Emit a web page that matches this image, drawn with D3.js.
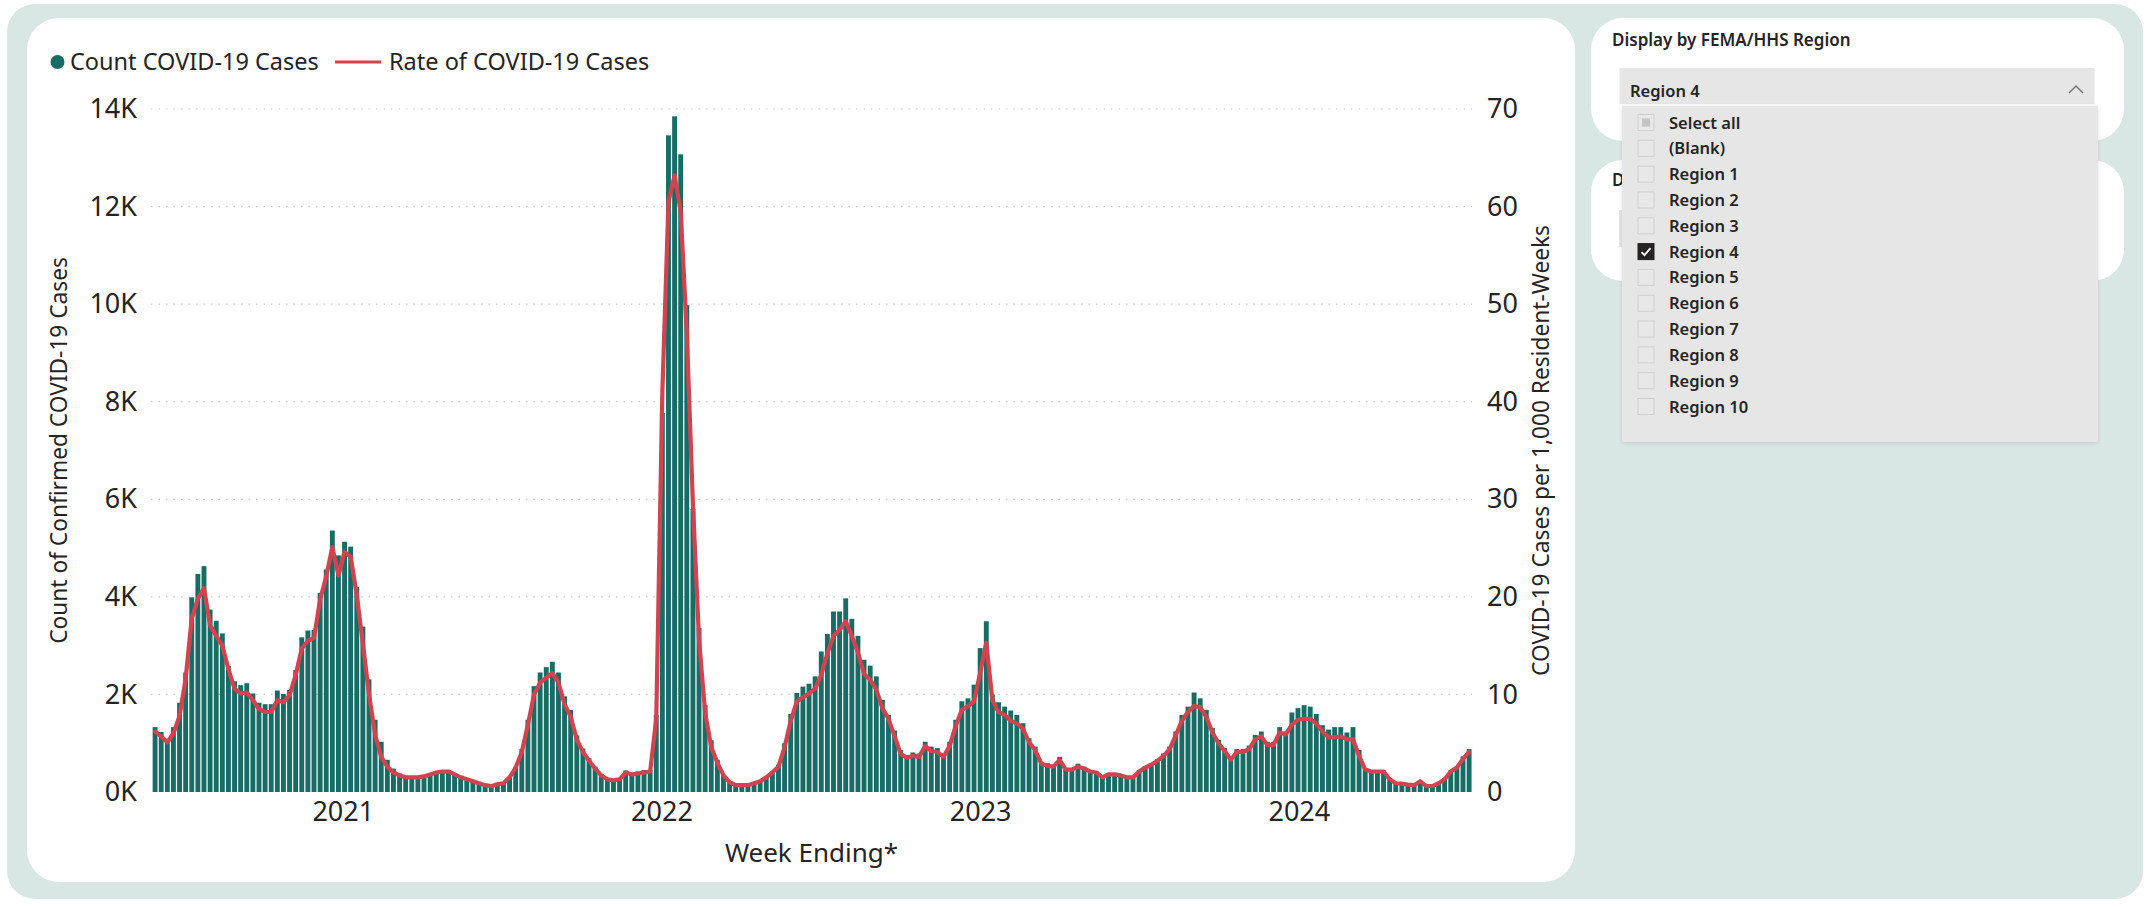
<!DOCTYPE html>
<html>
<head>
<meta charset="utf-8">
<script src="https://cdn.jsdelivr.net/npm/d3@7"></script>
<style>
  html, body { margin: 0; padding: 0; background: #ffffff; }
  svg { display: block; }
  text { font-family: "Segoe UI", "Noto Sans", "Open Sans", sans-serif; fill: #252423; }
</style>
</head>
<body>
<svg id="chart" width="2151" height="907"></svg>
<script>
// Weekly nursing-home COVID-19 cases, FEMA/HHS Region 4 (week ending dates, starting 2020-05-31)
const firstWeekEnding = "2020-05-31";

const weeklyCounts = [
  1330, 1230, 1070, 1330, 1830, 2450, 3990, 4470, 4630, 3740,
  3510, 3250, 2580, 2270, 2190, 2230, 2020, 1830, 1800, 1800,
  2080, 2010, 2090, 2500, 3170, 3310, 3320, 4080, 4560, 5360,
  4850, 5130, 5030, 4200, 3390, 2310, 1480, 1030, 660, 480,
  380, 310, 310, 310, 330, 370, 420, 450, 440, 370,
  310, 280, 230, 180, 140, 120, 160, 190, 310, 520,
  880, 1480, 2170, 2450, 2560, 2670, 2450, 1960, 1680, 1160,
  890, 690, 520, 370, 280, 260, 270, 440, 380, 420,
  450, 450, 1580, 7770, 13460, 13850, 13070, 9980, 5800, 3360,
  1780, 1060, 660, 350, 210, 140, 140, 140, 180, 230,
  310, 420, 560, 1000, 1600, 2030, 2160, 2220, 2370, 2880,
  3240, 3700, 3700, 3970, 3550, 3200, 2710, 2590, 2370, 1890,
  1580, 1260, 860, 760, 810, 790, 1030, 930, 900, 790,
  1030, 1480, 1860, 1920, 2200, 2950, 3500, 2000, 1840, 1750,
  1670, 1580, 1410, 1100, 930, 620, 590, 550, 720, 490,
  450, 580, 520, 450, 420, 310, 380, 380, 370, 330,
  310, 440, 530, 590, 670, 790, 930, 1240, 1580, 1750,
  2040, 1920, 1680, 1310, 1070, 900, 710, 880, 880, 950,
  1170, 1240, 1030, 1030, 1330, 1240, 1630, 1720, 1780, 1750,
  1600, 1370, 1280, 1330, 1330, 1220, 1330, 860, 490, 440,
  440, 440, 280, 190, 180, 160, 140, 230, 120, 120,
  180, 280, 440, 520, 730, 880
];

// Cases per 1,000 resident-weeks
const weeklyRates = [
  6.2, 5.7, 5.1, 6.0, 7.8, 11.6, 17.8, 19.8, 20.9, 17.1,
  16.0, 15.0, 12.6, 10.6, 10.1, 10.2, 9.4, 8.5, 8.2, 8.2,
  9.4, 9.2, 9.9, 12.0, 14.7, 15.5, 15.8, 19.7, 22.1, 25.1,
  22.2, 24.6, 24.1, 20.2, 15.2, 10.0, 5.9, 3.6, 2.6, 2.0,
  1.7, 1.5, 1.5, 1.5, 1.6, 1.8, 2.0, 2.1, 2.1, 1.8,
  1.5, 1.3, 1.1, 0.9, 0.7, 0.6, 0.8, 0.9, 1.5, 2.5,
  4.1, 6.9, 10.0, 11.2, 11.7, 12.2, 11.2, 9.0, 7.7, 5.4,
  4.1, 3.2, 2.4, 1.7, 1.3, 1.2, 1.3, 2.0, 1.8, 1.9,
  2.0, 2.1, 7.5, 41.0, 60.5, 63.2, 59.5, 47.0, 29.5, 15.6,
  8.1, 4.6, 3.0, 1.7, 1.0, 0.7, 0.7, 0.7, 0.9, 1.1,
  1.5, 2.0, 2.6, 4.6, 7.3, 9.3, 9.7, 10.1, 10.6, 12.0,
  14.2, 16.0, 16.6, 17.5, 16.0, 14.3, 12.1, 11.5, 10.5, 8.6,
  7.5, 5.7, 3.9, 3.5, 3.7, 3.6, 4.7, 4.2, 4.1, 3.6,
  4.7, 6.8, 8.4, 8.8, 9.3, 12.2, 15.3, 9.4, 8.2, 7.9,
  7.3, 7.0, 6.5, 5.1, 4.3, 2.9, 2.7, 2.6, 3.3, 2.3,
  2.3, 2.6, 2.4, 2.1, 2.0, 1.5, 1.8, 1.8, 1.7, 1.5,
  1.5, 2.1, 2.5, 2.8, 3.2, 3.7, 4.4, 5.8, 7.3, 8.2,
  8.8, 8.7, 7.7, 6.1, 5.0, 4.2, 3.3, 4.1, 4.1, 4.4,
  5.4, 5.7, 4.8, 4.8, 6.1, 5.9, 6.9, 7.4, 7.5, 7.5,
  7.0, 6.2, 5.6, 5.6, 5.7, 5.4, 5.4, 3.7, 2.3, 2.1,
  2.1, 2.1, 1.3, 0.9, 0.85, 0.75, 0.7, 1.1, 0.6, 0.6,
  0.9, 1.3, 2.1, 2.5, 3.4, 4.1
];

const countTicks = [0, 2000, 4000, 6000, 8000, 10000, 12000, 14000];
const rateTicks = [0, 10, 20, 30, 40, 50, 60, 70];
const yearTicks = [2021, 2022, 2023, 2024];

const legendLabels = ["Count COVID-19 Cases", "Rate of COVID-19 Cases"];
const leftAxisTitle = "Count of Confirmed COVID-19 Cases";
const rightAxisTitle = "COVID-19 Cases per 1,000 Resident-Weeks";
const xAxisTitle = "Week Ending*";

const slicerTitle = "Display by FEMA/HHS Region";
const slicerSelected = "Region 4";
const slicerItems = ["Select all", "(Blank)", "Region 1", "Region 2", "Region 3", "Region 4",
  "Region 5", "Region 6", "Region 7", "Region 8", "Region 9", "Region 10"];
// second slicer title: only its first letter shows beside the open dropdown
const secondSlicerTitleVisible = "D";

const TEAL = "#176d66";
const RED = "#d1434f";

const svg = d3.select("#chart");
const defs = svg.append("defs");

// page frame and cards
svg.append("rect").attr("x", 0).attr("y", 0).attr("width", 2151).attr("height", 907).attr("fill", "#ffffff");
svg.append("rect").attr("x", 7).attr("y", 4).attr("width", 2136).attr("height", 895).attr("rx", 28).attr("fill", "#d8e6e4");
svg.append("rect").attr("x", 27).attr("y", 18).attr("width", 1548).attr("height", 864).attr("rx", 32).attr("fill", "#ffffff");
svg.append("rect").attr("x", 1591).attr("y", 18).attr("width", 533).attr("height", 123).attr("rx", 32).attr("fill", "#ffffff");
svg.append("rect").attr("x", 1591).attr("y", 160).attr("width", 533).attr("height", 121).attr("rx", 32).attr("fill", "#ffffff");

// ---------- main chart ----------
const parse = d3.utcParse("%Y-%m-%d");
const start = parse(firstWeekEnding);
const weeks = weeklyCounts.map((_, i) => d3.utcDay.offset(start, 7 * i));

const plot = { left: 151, right: 1472, top: 109, bottom: 792 };

const x = d3.scaleUtc()
  .domain([d3.utcDay.offset(weeks[0], -4), d3.utcDay.offset(weeks[weeks.length - 1], 4)])
  .range([plot.left + 0.6, plot.right + 0.6]);
const yCount = d3.scaleLinear().domain([0, 14000]).range([plot.bottom, plot.top]);
const yRate = d3.scaleLinear().domain([0, 70]).range([plot.bottom, plot.top]);

const g = svg.append("g");

// gridlines
g.append("g").selectAll("line").data(countTicks.slice(1)).join("line")
  .attr("x1", plot.left).attr("x2", plot.right)
  .attr("y1", d => yCount(d)).attr("y2", d => yCount(d))
  .attr("stroke", "#c9c9c9").attr("stroke-width", 1.2).attr("stroke-dasharray", "1.5,6");

// bars
const step = x(weeks[1]) - x(weeks[0]);
const bw = step * 0.8;
g.append("g").selectAll("rect").data(weeklyCounts).join("rect")
  .attr("x", (d, i) => x(weeks[i]) - bw / 2)
  .attr("width", bw)
  .attr("y", d => yCount(d))
  .attr("height", d => plot.bottom - yCount(d))
  .attr("fill", TEAL);

// rate line
const line = d3.line()
  .x((d, i) => x(weeks[i]))
  .y(d => yRate(d))
  .curve(d3.curveLinear);
g.append("path").datum(weeklyRates)
  .attr("d", line)
  .attr("fill", "none")
  .attr("stroke", RED)
  .attr("stroke-width", 4.2)
  .attr("stroke-linejoin", "round")
  .attr("stroke-linecap", "round");

// left axis labels
const leftAxis = d3.axisLeft(yCount).tickValues(countTicks).tickSize(0).tickPadding(0)
  .tickFormat(d => (d / 1000) + "K");
const la = svg.append("g").attr("transform", `translate(${137},0)`).call(leftAxis);
la.select(".domain").remove();
la.selectAll("text").attr("font-size", 27).attr("fill", "#333333").attr("font-family", null);

// right axis labels
const rightAxis = d3.axisRight(yRate).tickValues(rateTicks).tickSize(0).tickPadding(0);
const ra = svg.append("g").attr("transform", `translate(${1487},0)`).call(rightAxis);
ra.select(".domain").remove();
ra.selectAll("text").attr("font-size", 27).attr("fill", "#333333").attr("font-family", null);

// x axis (years)
const xAxis = d3.axisBottom(x)
  .tickValues(yearTicks.map(yr => new Date(Date.UTC(yr, 0, 1))))
  .tickSize(0).tickPadding(0)
  .tickFormat(d3.utcFormat("%Y"));
const xa = svg.append("g").attr("transform", `translate(0,${802})`).call(xAxis);
xa.select(".domain").remove();
xa.selectAll("text").attr("font-size", 27).attr("fill", "#333333").attr("font-family", null);

// axis titles
svg.append("text").attr("transform", `translate(67,${(plot.top + plot.bottom) / 2}) rotate(-90)`)
  .attr("text-anchor", "middle").attr("font-size", 22.7).text(leftAxisTitle);
svg.append("text").attr("transform", `translate(1549,${(plot.top + plot.bottom) / 2}) rotate(-90)`)
  .attr("text-anchor", "middle").attr("font-size", 22.7).text(rightAxisTitle);
svg.append("text").attr("x", (plot.left + plot.right) / 2).attr("y", 861.5)
  .attr("text-anchor", "middle").attr("font-size", 26).text(xAxisTitle);

// legend
const lg = svg.append("g");
lg.append("circle").attr("cx", 57.5).attr("cy", 62).attr("r", 7).attr("fill", TEAL);
lg.append("text").attr("x", 70).attr("y", 70).attr("font-size", 23.5).text(legendLabels[0]);
lg.append("line").attr("x1", 335).attr("x2", 381).attr("y1", 62).attr("y2", 62)
  .attr("stroke", RED).attr("stroke-width", 3);
lg.append("text").attr("x", 389).attr("y", 70).attr("font-size", 23.5).text(legendLabels[1]);

// ---------- slicers ----------
svg.append("text").attr("x", 1612).attr("y", 46).attr("font-size", 17).attr("font-weight", 600)
  .attr("fill", "#3a3340").text(slicerTitle);

svg.append("text").attr("x", 1612).attr("y", 186).attr("font-size", 17).attr("font-weight", 600)
  .attr("fill", "#3a3340").text(secondSlicerTitleVisible);
svg.append("rect").attr("x", 1619).attr("y", 210).attr("width", 476).attr("height", 37).attr("fill", "#e6e6e6");

// dropdown header
svg.append("rect").attr("x", 1619.5).attr("y", 68).attr("width", 475).attr("height", 36).attr("fill", "#e6e6e6");
svg.append("text").attr("x", 1630).attr("y", 96.5).attr("font-size", 16.5).attr("font-weight", 600)
  .attr("fill", "#333333").text(slicerSelected);
svg.append("polyline").attr("points", "2069,93 2076,86 2083,93")
  .attr("fill", "none").attr("stroke", "#777777").attr("stroke-width", 1.5);

// dropdown list with soft shadow
const f = defs.append("filter").attr("id", "shadow").attr("x", "-5%").attr("y", "-5%").attr("width", "110%").attr("height", "110%");
f.append("feDropShadow").attr("dx", 0).attr("dy", 1).attr("stdDeviation", 2).attr("flood-color", "#000").attr("flood-opacity", 0.12);
svg.append("rect").attr("x", 1622).attr("y", 106).attr("width", 476).attr("height", 336)
  .attr("fill", "#e6e6e6").attr("filter", "url(#shadow)");

const itemY = d3.scaleLinear().domain([0, slicerItems.length - 1]).range([122.5, 406.5]);
const items = svg.append("g").selectAll("g").data(slicerItems).join("g")
  .attr("transform", (d, i) => `translate(0,${itemY(i)})`);
items.append("rect").attr("x", 1638).attr("y", -8).attr("width", 16).attr("height", 16)
  .attr("fill", d => d === slicerSelected ? "#252423" : "#e8e8e8")
  .attr("stroke", d => d === slicerSelected ? "#252423" : "#cfcfcf").attr("stroke-width", 1);
items.filter(d => d === "Select all").append("rect")
  .attr("x", 1642).attr("y", -4).attr("width", 8).attr("height", 8).attr("fill", "#c4c4c4");
items.filter(d => d === slicerSelected).append("polyline")
  .attr("points", "1641.5,0.5 1644.5,3.5 1650.5,-3.5")
  .attr("fill", "none").attr("stroke", "#ffffff").attr("stroke-width", 1.8);
items.append("text").attr("x", 1669).attr("y", 6).attr("font-size", 16.5).attr("font-weight", 600)
  .attr("fill", "#333333").text(d => d);
</script>
</body>
</html>
